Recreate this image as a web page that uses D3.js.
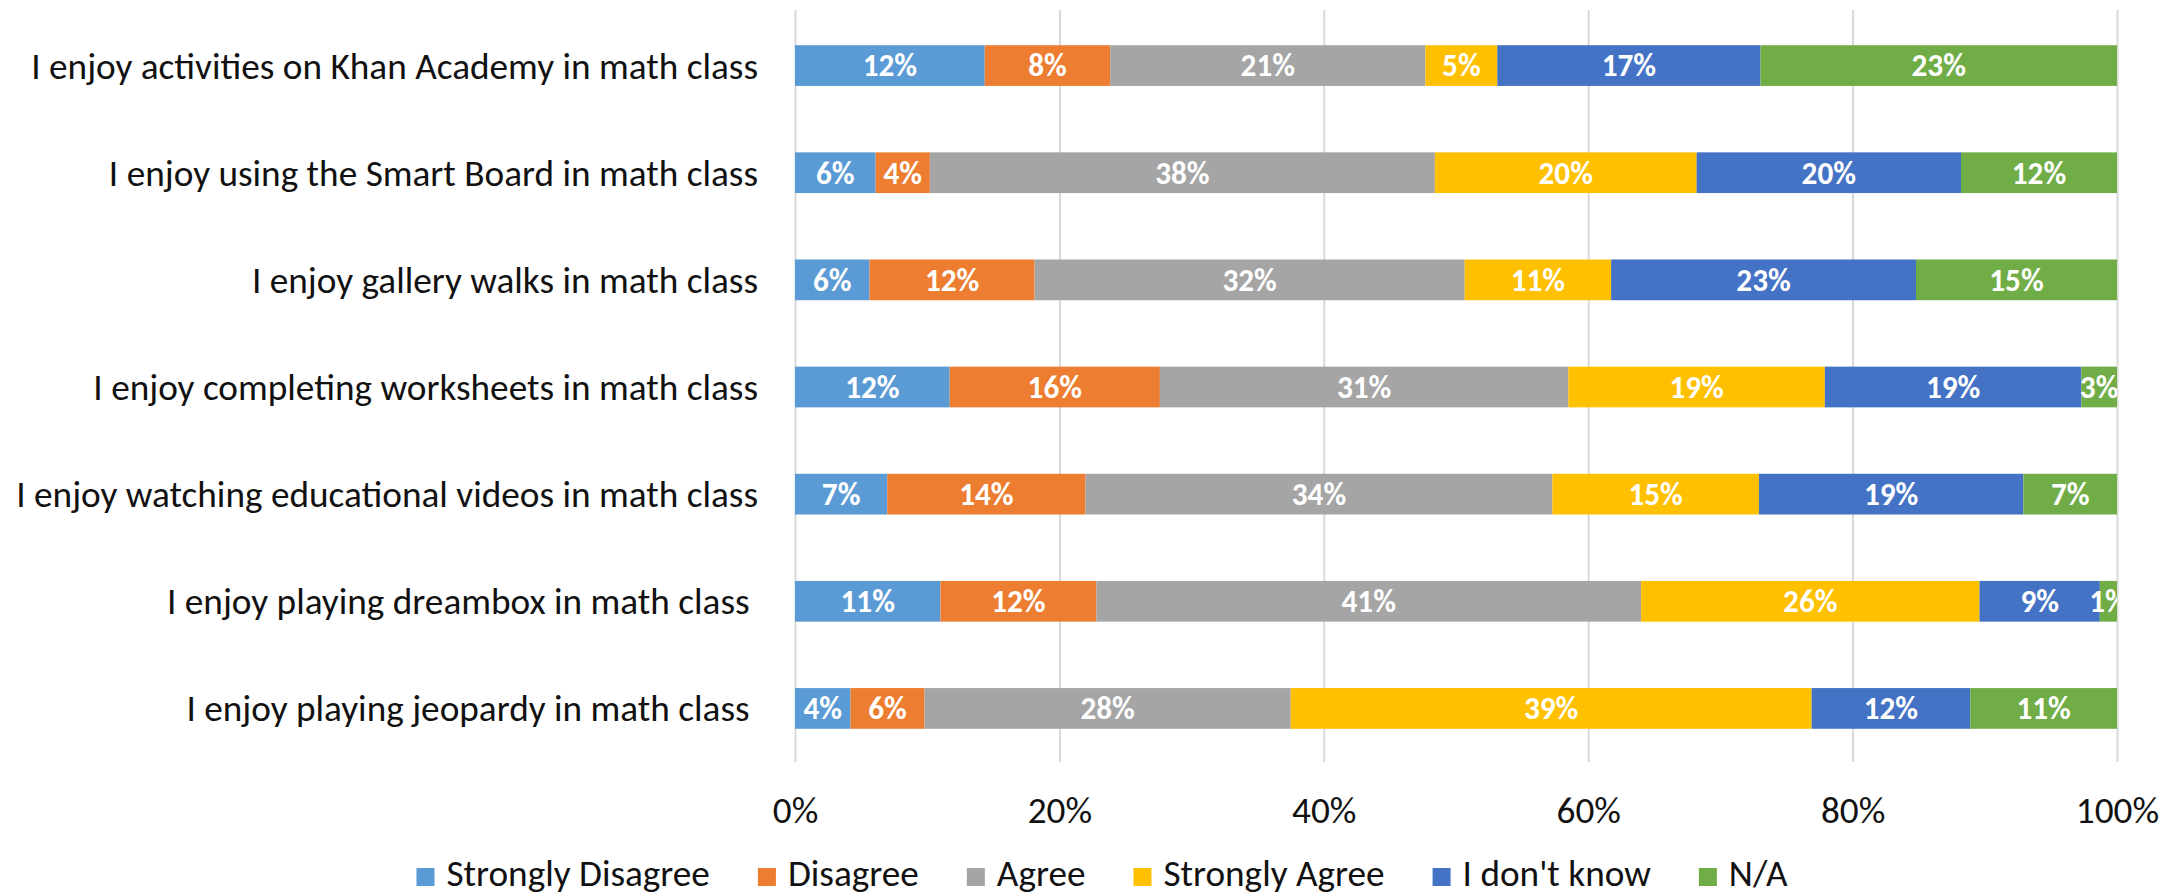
<!DOCTYPE html>
<html lang="en">
<head>
    <meta charset="UTF-8">
    <title>I enjoy ... in math class</title>
    <script src="https://d3js.org/d3.v7.min.js"></script>
    <style>
        /* page fills the capture window */
        html, body { margin: 0; padding: 0; background: #fff; }
        svg { display: block; }
        .cat { white-space: pre; }
    </style>
</head>
<body>
    <div id="chart"></div>

    <script>
        // data (percent of respondents per statement)
        var categories = [
            "I enjoy activities on Khan Academy in math class",
            "I enjoy using the Smart Board in math class",
            "I enjoy gallery walks in math class",
            "I enjoy completing worksheets in math class",
            "I enjoy watching educational videos in math class",
            "I enjoy playing dreambox in math class ",
            "I enjoy playing jeopardy in math class "
        ];
        var seriesNames = ["Strongly Disagree", "Disagree", "Agree", "Strongly Agree", "I don't know", "N/A"];
        var stronglyDisagree = [12.4, 6.1, 5.6, 11.7, 6.7, 11.0, 4.2];
        var disagree         = [8.2, 4.1, 12.4, 15.9, 14.4, 11.8, 5.6];
        var agree            = [20.6, 38.2, 32.3, 30.9, 33.9, 41.2, 27.7];
        var stronglyAgree    = [4.7, 19.8, 11.0, 19.4, 15.0, 25.6, 39.4];
        var dontKnow         = [17.2, 20.0, 22.9, 19.4, 19.2, 9.1, 12.0];
        var notApplicable    = [23.3, 11.8, 15.1, 2.7, 6.8, 1.3, 11.1];
        var tickValues = [0, 0.2, 0.4, 0.6, 0.8, 1];

        var colors = ["#5B9BD5", "#ED7D31", "#A5A5A5", "#FFC000", "#4472C4", "#70AD47"];
        var FONT = "Carlito, Calibri, Lato, sans-serif";

        var svgWidth = 2177, svgHeight = 895;
        var plot = {left: 795, right: 2117, top: 10, bottom: 762};

        var svg = d3.select('#chart').append('svg')
            .attr('width', svgWidth)
            .attr('height', svgHeight)
            .style('font-family', FONT);

        // fit the font so the longest label has the width it has in the picture
        var probe = svg.append('text').style('font-size', '37px').text(categories[0]);
        var k = 727 / probe.node().getComputedTextLength();
        probe.remove();
        var fs = 37 * k, fsBold = 31 * k;

        var rows = categories.map(function(c, i) {
            return {
                cat: c,
                "Strongly Disagree": stronglyDisagree[i],
                "Disagree": disagree[i],
                "Agree": agree[i],
                "Strongly Agree": stronglyAgree[i],
                "I don't know": dontKnow[i],
                "N/A": notApplicable[i]
            };
        });

        var stacked = d3.stack()
            .keys(seriesNames)
            .offset(d3.stackOffsetExpand)(rows);

        var x = d3.scaleLinear().domain([0, 1]).range([plot.left, plot.right]);
        var y = d3.scaleBand().domain(categories)
            .range([plot.top + 2, plot.bottom])
            .paddingInner(0.62).paddingOuter(0.31);

        // vertical gridlines
        svg.append('g')
            .attr('transform', 'translate(0,' + plot.bottom + ')')
            .call(d3.axisBottom(x).tickValues(tickValues).tickSize(-(plot.bottom - plot.top)).tickFormat(''))
            .call(function(g) { g.select('.domain').remove(); })
            .selectAll('line').attr('stroke', '#D9D9D9').attr('stroke-width', 2);

        // tick labels
        svg.append('g')
            .attr('transform', 'translate(0,' + plot.bottom + ')')
            .call(d3.axisBottom(x).tickValues(tickValues).tickSize(0).tickPadding(35).tickFormat(d3.format('.0%')))
            .call(function(g) { g.select('.domain').remove(); })
            .selectAll('text')
            .style('font-size', fs + 'px')
            .style('font-family', FONT)
            .attr('fill', '#111');

        // bars
        var layers = svg.append('g').selectAll('g')
            .data(stacked)
            .enter().append('g')
            .attr('fill', function(d, i) { return colors[i]; });

        layers.selectAll('rect')
            .data(function(d) { return d; })
            .enter().append('rect')
            .attr('x', function(d) { return x(d[0]); })
            .attr('y', function(d) { return y(d.data.cat); })
            .attr('width', function(d) { return x(d[1]) - x(d[0]); })
            .attr('height', y.bandwidth());

        // data labels, clipped to the plot area like Excel does
        svg.append('clipPath').attr('id', 'plotClip')
            .append('rect')
            .attr('x', plot.left).attr('y', plot.top)
            .attr('width', plot.right - plot.left).attr('height', plot.bottom - plot.top);

        var labels = svg.append('g').attr('clip-path', 'url(#plotClip)');
        stacked.forEach(function(layer) {
            labels.selectAll(null)
                .data(layer)
                .enter().append('text')
                .attr('x', function(d) { return (x(d[0]) + x(d[1])) / 2; })
                .attr('y', function(d) { return y(d.data.cat) + y.bandwidth() / 2; })
                .attr('dy', '0.35em')
                .attr('text-anchor', 'middle')
                .attr('fill', '#fff')
                .style('font-size', fsBold + 'px')
                .style('font-weight', 'bold')
                .text(function(d) { return Math.round(d.data[layer.key]) + '%'; });
        });

        // category labels
        svg.append('g').selectAll('text')
            .data(categories)
            .enter().append('text')
            .attr('class', 'cat')
            .attr('x', 758)
            .attr('y', function(d) { return y(d) + y.bandwidth() / 2; })
            .attr('dy', '0.35em')
            .attr('text-anchor', 'end')
            .attr('fill', '#111')
            .style('font-size', fs + 'px')
            .text(function(d) { return d; });

        // legend, centred under the chart
        var legend = svg.append('g');
        var items = legend.selectAll('g')
            .data(seriesNames)
            .enter().append('g');

        items.append('rect')
            .attr('width', 18).attr('height', 18)
            .attr('y', 868)
            .attr('fill', function(d, i) { return colors[i]; });

        var legendText = items.append('text')
            .attr('x', 30)
            .attr('y', 886)
            .attr('fill', '#111')
            .style('font-size', fs + 'px')
            .text(function(d) { return d; });

        // legend texts together are about 951px wide in the picture
        var sum = 0;
        legendText.each(function() { sum += this.getComputedTextLength(); });
        legendText.style('font-size', (fs * 951 / sum) + 'px');

        var pos = 0, offsets = [];
        legendText.each(function() {
            offsets.push(pos);
            pos += 30 + this.getComputedTextLength() + 48;
        });
        var total = pos - 48;
        var start = 1102 - total / 2;
        items.attr('transform', function(d, i) { return 'translate(' + (start + offsets[i]) + ',0)'; });
    </script>
</body>
</html>
